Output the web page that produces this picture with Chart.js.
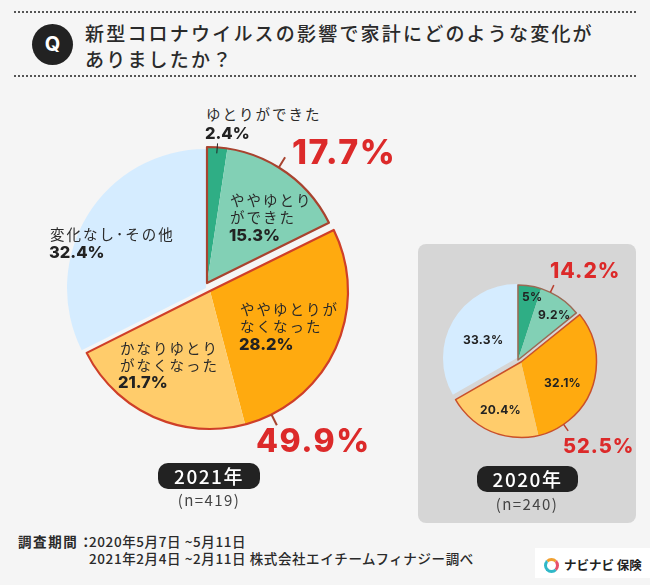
<!DOCTYPE html>
<html lang="ja">
<head>
<meta charset="utf-8">
<title>新型コロナウイルスの影響で家計にどのような変化がありましたか？</title>
<script src="https://cdn.jsdelivr.net/npm/chart.js@4"></script>
<style>
html, body { margin: 0; padding: 0; background: #f5f5f5; }
#page { position: relative; width: 650px; height: 585px; overflow: hidden; background: #f5f5f5;
    font-family: "Noto Sans CJK JP", sans-serif; color: #222; }
#page > * { position: absolute; }
.dots { left: 14px; width: 622px; height: 0; border-top: 2px dotted #555; }
#panel { left: 418px; top: 244px; width: 218px; height: 279px; background: #d6d6d6; border-radius: 8px; }
#qmark { left: 32px; top: 24px; width: 41px; height: 41px; border-radius: 50%; background: #222; color: #fff;
    font: 700 20px/41px Inter, sans-serif; text-align: center; }
.t { white-space: nowrap; line-height: 1; transform: translateY(-50%); }
.title { font-size: 19px; font-weight: 500; letter-spacing: 2.2px; color: #2a2a2a; }
.cat { font-size: 14.5px; letter-spacing: 2px; color: #2a2a2a; }
.pct { font: 800 16.5px Inter, sans-serif; color: #222; }
.small { font: 700 12px Inter, sans-serif; letter-spacing: .3px; color: #222; }
.big { font-family: Inter, sans-serif; font-weight: 800; color: #dc2a2a; letter-spacing: 1.5px; }
.pill { background: #222; color: #fff; border-radius: 10px; text-align: center;
    font: 500 19px/26px "Noto Sans CJK JP", sans-serif; letter-spacing: 1.5px; }
.n { font-size: 15px; color: #444; letter-spacing: 1.4px; transform: translate(-50%, -50%); }
.foot { font-size: 13.5px; font-weight: 500; letter-spacing: .6px; color: #2a2a2a; }
#logo { left: 535px; top: 548px; width: 115px; height: 30px; background: #fff; }
#ring { left: 544px; top: 558px; width: 9px; height: 9px; border-radius: 50%; border: 3px solid;
    border-color: #f0a030 #e8506a #30b8c8 #30b8c8; }
#logotext { left: 564px; top: 565px; font-size: 12.5px; font-weight: 700; color: #222; }
canvas { display: block; }
</style>
</head>
<body>
<div id="page">
    <div class="dots" style="top:11px"></div>
    <div class="dots" style="top:75px"></div>
    <div id="qmark">Q</div>
    <div class="t title" style="left:85px;top:32px">新型コロナウイルスの影響で家計にどのような変化が</div>
    <div class="t title" style="left:85px;top:58px">ありましたか？</div>

    <div id="panel"></div>
    <div style="left:47px;top:130px"><canvas id="pie2021" width="320" height="320"></canvas></div>
    <div style="left:428px;top:270px"><canvas id="pie2020" width="180" height="180"></canvas></div>

    <div class="t cat" style="left:206px;top:114px">ゆとりができた</div>
    <div class="t pct" style="left:205px;top:133px">2.4%</div>
    <div class="t cat" style="left:230px;top:200px">ややゆとり</div>
    <div class="t cat" style="left:230px;top:217px">ができた</div>
    <div class="t pct" style="left:229px;top:235px">15.3%</div>
    <div class="t cat" style="left:50px;top:234px">変化なし･その他</div>
    <div class="t pct" style="left:49px;top:252px">32.4%</div>
    <div class="t cat" style="left:240px;top:309px">ややゆとりが</div>
    <div class="t cat" style="left:240px;top:326px">なくなった</div>
    <div class="t pct" style="left:239px;top:344px">28.2%</div>
    <div class="t cat" style="left:120px;top:348px">かなりゆとり</div>
    <div class="t cat" style="left:120px;top:365px">がなくなった</div>
    <div class="t pct" style="left:118px;top:382px">21.7%</div>
    <div class="t big" style="left:292px;top:152px;font-size:34px">17.7%</div>
    <div class="t big" style="left:256px;top:441px;font-size:32px">49.9%</div>
    <div class="pill" style="left:158px;top:463px;width:102px;height:26px">2021年</div>
    <div class="t n" style="left:209px;top:499px">(n=419)</div>

    <div class="t small" style="left:522px;top:296px">5%</div>
    <div class="t small" style="left:538px;top:314px">9.2%</div>
    <div class="t small" style="left:463px;top:339px">33.3%</div>
    <div class="t small" style="left:544px;top:382px">32.1%</div>
    <div class="t small" style="left:480px;top:409px">20.4%</div>
    <div class="t big" style="left:550px;top:270px;font-size:21px;letter-spacing:1px">14.2%</div>
    <div class="t big" style="left:563px;top:446px;font-size:20px;letter-spacing:1px">52.5%</div>
    <div class="pill" style="left:477px;top:466px;width:101px;height:26px">2020年</div>
    <div class="t n" style="left:527px;top:503px">(n=240)</div>

    <div class="t foot" style="left:18px;top:542px;font-weight:700;letter-spacing:1.6px">調査期間</div>
    <div class="t foot" style="left:79px;top:542px;font-weight:700">：</div>
    <div class="t foot" style="left:89px;top:542px">2020年5月7日 ~5月11日</div>
    <div class="t foot" style="left:89px;top:559px">2021年2月4日 ~2月11日 株式会社エイチームフィナジー調べ</div>
    <div id="logo"></div>
    <div id="ring"></div>
    <div id="logotext" class="t">ナビナビ 保険</div>
</div>

<script>
const categories = ['ゆとりができた', 'ややゆとりができた', 'ややゆとりがなくなった', 'かなりゆとりがなくなった', '変化なし・その他'];
const values2021 = [2.4, 15.3, 28.2, 21.7, 32.4];
const values2020 = [5, 9.2, 32.1, 20.4, 33.3];
const sliceColors = ['#2fae85', '#82d0b5', '#ffaa0f', '#ffcc6b', '#d5ecff'];
// which exploded piece each slice belongs to
const sliceGroups = [0, 0, 1, 1, 2];

// moves the slices of each piece, then draws the red outlines and leader lines
const piecesPlugin = {
    id: 'pieces',
    afterDatasetsUpdate(chart, args, opts) {
        chart.getDatasetMeta(0).data.forEach((arc, i) => {
            const p = opts.pieces[sliceGroups[i]];
            arc.x += p.dx;
            arc.y += p.dy;
            arc.outerRadius = p.r;
        });
    },
    afterDatasetsDraw(chart, args, opts) {
        const ctx = chart.ctx;
        const arcs = chart.getDatasetMeta(0).data;
        ctx.save();
        ctx.lineJoin = 'round';
        opts.pieces.forEach((p, g) => {
            if (!p.stroke) return;
            const members = arcs.filter((a, i) => sliceGroups[i] === g);
            const first = members[0], last = members[members.length - 1];
            ctx.beginPath();
            ctx.moveTo(first.x, first.y);
            ctx.arc(first.x, first.y, first.outerRadius, first.startAngle, last.endAngle);
            ctx.closePath();
            ctx.strokeStyle = p.stroke;
            ctx.lineWidth = opts.lineWidth;
            ctx.stroke();

            const mid = (first.startAngle + last.endAngle) / 2;
            ctx.beginPath();
            ctx.moveTo(first.x + Math.cos(mid) * first.outerRadius, first.y + Math.sin(mid) * first.outerRadius);
            ctx.lineTo(first.x + Math.cos(mid) * (first.outerRadius + opts.leader), first.y + Math.sin(mid) * (first.outerRadius + opts.leader));
            ctx.strokeStyle = p.leaderColor;
            ctx.lineWidth = opts.leaderWidth;
            ctx.stroke();
        });
        if (opts.tick) {
            const a = arcs[0];
            const mid = (a.startAngle + a.endAngle) / 2;
            ctx.beginPath();
            ctx.moveTo(a.x + Math.cos(mid) * (a.outerRadius - 6), a.y + Math.sin(mid) * (a.outerRadius - 6));
            ctx.lineTo(a.x + Math.cos(mid) * (a.outerRadius + 4), a.y + Math.sin(mid) * (a.outerRadius + 4));
            ctx.strokeStyle = '#222';
            ctx.lineWidth = 1;
            ctx.stroke();
        }
        ctx.restore();
    }
};

function drawPie(id, values, radius, pieces) {
    new Chart(document.getElementById(id), {
        type: 'pie',
        data: {
            labels: categories,
            datasets: [{ data: values, backgroundColor: sliceColors, borderWidth: 0, radius: radius }]
        },
        options: {
            responsive: false,
            animation: false,
            events: [],
            layout: { padding: 0 },
            plugins: { legend: { display: false }, tooltip: { enabled: false }, pieces: pieces }
        },
        plugins: [piecesPlugin]
    });
}

drawPie('pie2021', values2021, 140, {
    lineWidth: 2.2, leader: 12, leaderWidth: 2, tick: true,
    pieces: [
        { dx: 0, dy: -7, r: 136, stroke: '#a8432f', leaderColor: '#a8432f' },
        { dx: 3, dy: 1, r: 138, stroke: '#cf3f28', leaderColor: '#a8432f' },
        { dx: -1, dy: -2, r: 139 }
    ]
});

drawPie('pie2020', values2020, 75, {
    lineWidth: 1.5, leader: 8, leaderWidth: 1.5, tick: false,
    pieces: [
        { dx: 0, dy: 0, r: 75, stroke: '#9a6a55', leaderColor: '#b8402f' },
        { dx: 3, dy: 2, r: 75.5, stroke: '#c9502a', leaderColor: '#b8402f' },
        { dx: -1, dy: -2, r: 74 }
    ]
});
</script>
</body>
</html>
